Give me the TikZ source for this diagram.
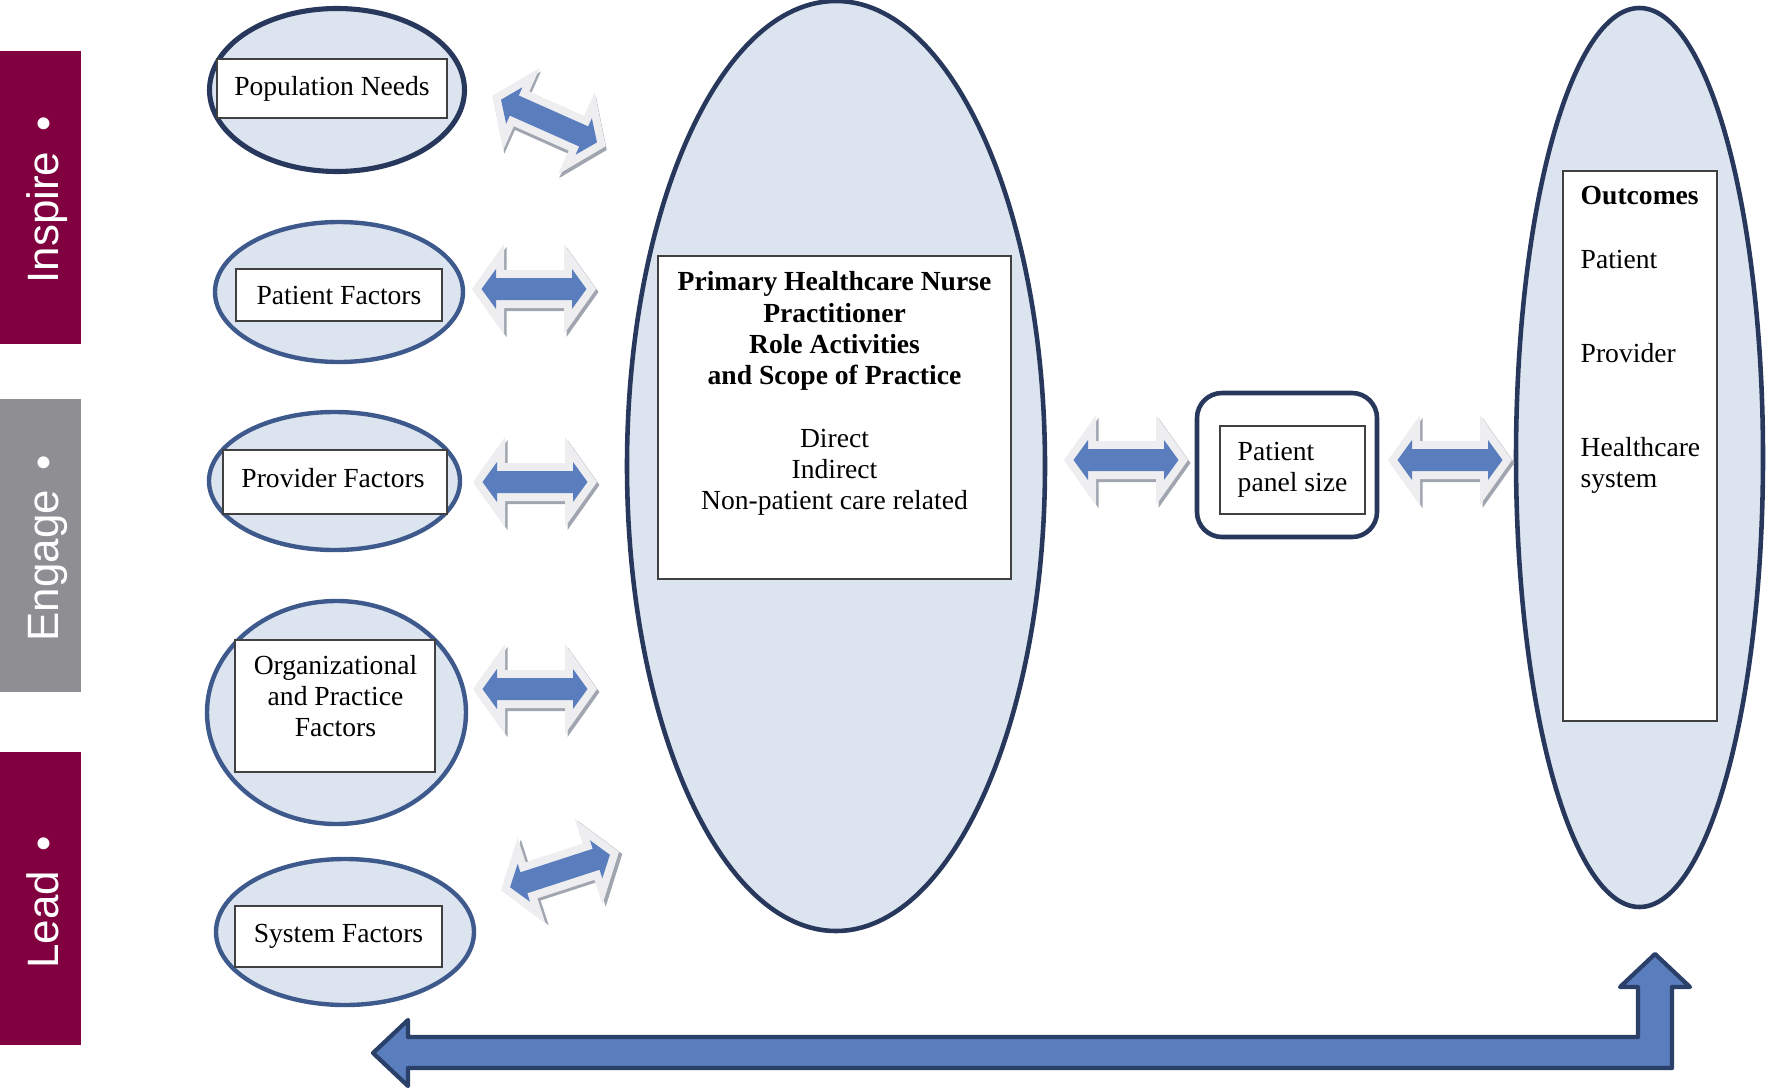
\documentclass[tikz,border=0pt]{standalone}
\usepackage{fontspec}
\setmainfont{Liberation Serif}
\setsansfont{Liberation Sans}
\usetikzlibrary{shapes.geometric,positioning}

\definecolor{barmaroon}{RGB}{128,0,64}
\definecolor{bargrey}{RGB}{143,142,146}
\definecolor{ringfill}{RGB}{220,228,240}
\definecolor{ringdark}{RGB}{40,56,92}
\definecolor{ringblue}{RGB}{62,90,140}
\definecolor{arrowblue}{RGB}{90,125,190}
\definecolor{arrowedge}{RGB}{42,64,104}
\definecolor{glowgrey}{RGB}{238,238,240}
\definecolor{shadowgrey}{RGB}{160,165,176}

% half length, head length, head half width, shaft half width
\newcommand{\dblpath}[4]{(-#1,0) -- ({-#1+#2},#3) -- ({-#1+#2},#4) -- ({#1-#2},#4) -- ({#1-#2},#3) -- (#1,0) -- ({#1-#2},-#3) -- ({#1-#2},-#4) -- ({-#1+#2},-#4) -- ({-#1+#2},-#3) -- cycle}

\begin{document}
\begin{tikzpicture}
 \tikzset{
stage bar/.style = {rectangle, fill=#1, minimum width=0.81cm, minimum height=2.93cm, inner sep=0},
stage label/.style = {rotate=90, anchor=base, text=white, inner sep=0, font=\sffamily\fontsize{12.5}{14}\selectfont},
factor ring/.style = {ellipse, draw=ringblue, line width=1.25pt, fill=ringfill, inner sep=0},
textbox/.style = {rectangle, draw=black!75, line width=0.45pt, fill=white, inner sep=0},
plain text/.style = {inner sep=0, font=\fontsize{7.85}{8.9}\selectfont},
dbl arrow/.pic = {
  \fill [shadowgrey, shift={(0.025,-0.03)}] \dblpath{0.62}{0.32}{0.45}{0.19};
  \fill [glowgrey] \dblpath{0.62}{0.32}{0.45}{0.19};
  \fill [arrowblue] \dblpath{0.525}{0.145}{0.20}{0.11};
}}

    \useasboundingbox (0,0) rectangle (17.66,-10.88);

    % stages
    \node [stage bar=barmaroon] (InspireBar) at (0.405,-1.975) {};
    \node [stage label] (InspireTxt) at (0.59,-2.00) {Inspire\hspace{0.45em}•};
    \node [stage bar=bargrey] (EngageBar) at (0.405,-5.45) {};
    \node [stage label] (EngageTxt) at (0.59,-5.48) {Engage\hspace{0.45em}•};
    \node [stage bar=barmaroon] (LeadBar) at (0.405,-8.985) {};
    \node [stage label] (LeadTxt) at (0.59,-9.02) {Lead\hspace{0.45em}•};

    % factors
    \node [factor ring] (PopRing)[draw=ringdark, line width=1.45pt, minimum width=2.55cm, minimum height=1.63cm] at (3.37,-0.90) {};
    \node [textbox, plain text] (PopBox)[minimum width=2.30cm, minimum height=0.59cm] at (3.32,-0.885) {Population Needs};
    \node [factor ring] (PatRing)[minimum width=2.48cm, minimum height=1.40cm] at (3.39,-2.92) {};
    \node [textbox, plain text] (PatBox)[minimum width=2.06cm, minimum height=0.52cm] at (3.39,-2.95) {Patient Factors};
    \node [factor ring] (ProvRing)[minimum width=2.51cm, minimum height=1.38cm] at (3.345,-4.81) {};
    \node [textbox] (ProvBox)[minimum width=2.24cm, minimum height=0.64cm] at (3.35,-4.82) {};
    \node [plain text] (ProvTxt) at (3.33,-4.78) {Provider Factors};
    \node [factor ring] (OrgRing)[minimum width=2.59cm, minimum height=2.23cm] at (3.365,-7.125) {};
    \node [textbox] (OrgBox)[minimum width=2.00cm, minimum height=1.32cm] at (3.35,-7.06) {};
    \node [plain text, align=center] (OrgTxt) at (3.355,-6.96) {Organizational\\and Practice\\Factors};
    \node [factor ring] (SysRing)[minimum width=2.58cm, minimum height=1.46cm] at (3.45,-9.32) {};
    \node [textbox, plain text] (SysBox)[minimum width=2.07cm, minimum height=0.61cm] at (3.385,-9.365) {System Factors};

    % role
    \node [factor ring] (CoreRing)[draw=ringdark, line width=1.3pt, minimum width=4.18cm, minimum height=9.30cm] at (8.36,-4.66) {};
    \node [textbox] (CoreBox)[minimum width=3.53cm, minimum height=3.23cm] at (8.345,-4.175) {};
    \node [plain text, align=center, anchor=north] (CoreTxt) at (8.345,-2.71) {\textbf{Primary Healthcare Nurse}\\\textbf{Practitioner}\\\textbf{Role Activities}\\\textbf{and Scope of Practice}\\[8.9pt]Direct\\Indirect\\Non-patient care related};

    % panel
    \node [rectangle, rounded corners=0.25cm, draw=ringdark, line width=1.3pt, fill=white] (PanelFrame)[minimum width=1.80cm, minimum height=1.44cm] at (12.87,-4.65) {};
    \node [textbox] (PanelBox)[minimum width=1.45cm, minimum height=0.88cm] at (12.925,-4.70) {};
    \node [plain text, align=left] (PanelTxt) at (PanelBox.center) {Patient\\panel size};

    % outcomes
    \node [factor ring] (OutRing)[draw=ringdark, line width=1.3pt, minimum width=2.47cm, minimum height=8.99cm] at (16.395,-4.575) {};
    \node [textbox] (OutBox)[minimum width=1.54cm, minimum height=5.50cm] at (16.40,-4.46) {};
    \node [plain text, align=left, anchor=north west] (OutTxt) at (15.80,-1.855) {\textbf{Outcomes}\\[9.3pt]Patient\\[17.8pt]Provider\\[17.8pt]Healthcare\\system};

    % two-way arrows
    \pic [rotate=-24] (PopArrow) at (5.49,-1.21) {dbl arrow};
    \pic (PatArrow) at (5.34,-2.89) {dbl arrow};
    \pic (ProvArrow) at (5.35,-4.82) {dbl arrow};
    \pic (OrgArrow) at (5.35,-6.89) {dbl arrow};
    \pic [rotate=18] (SysArrow) at (5.60,-8.71) {dbl arrow};
    \pic (CoreArrow) at (11.26,-4.60) {dbl arrow};
    \pic (PanelArrow) at (14.50,-4.60) {dbl arrow};

    % feedback
    \draw [line width=1.2pt, draw=arrowedge, fill=arrowblue, line join=round] (3.73,-10.53) -- (4.08,-10.20) -- (4.08,-10.37) -- (16.38,-10.37) -- (16.38,-9.87) -- (16.20,-9.87) -- (16.55,-9.54) -- (16.90,-9.87) -- (16.72,-9.87) -- (16.72,-10.68) -- (4.08,-10.68) -- (4.08,-10.86) -- cycle;

  \end{tikzpicture}
\end{document}
